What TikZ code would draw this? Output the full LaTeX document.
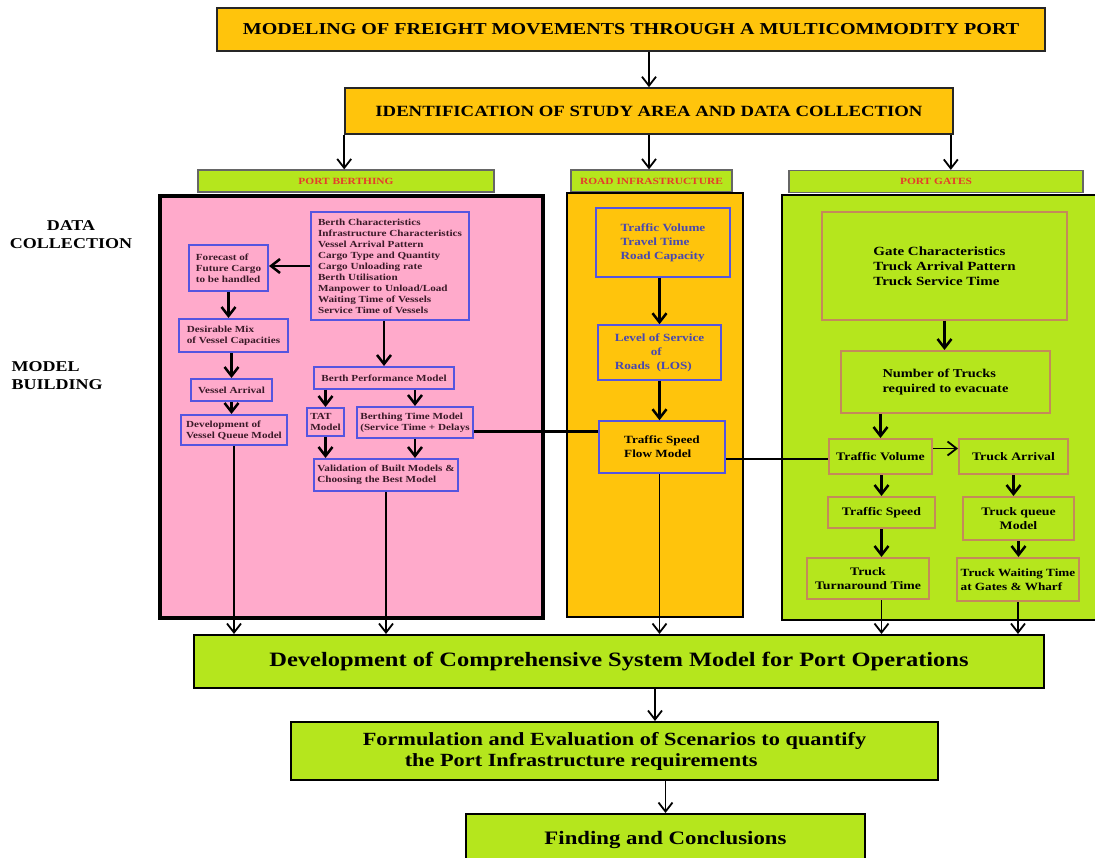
\documentclass[tikz,border=0pt]{standalone}
\usepackage{fontspec}
\setmainfont[FakeStretch=1.2]{Liberation Serif}
\usepackage{tikz}
\usetikzlibrary{arrows.meta}
\definecolor{gold}{HTML}{FFC40C}
\definecolor{limegreen}{HTML}{B5E61D}
\definecolor{portpink}{HTML}{FFAACB}
\definecolor{boxblue}{HTML}{5555E0}
\definecolor{boxbrown}{HTML}{C48A5A}
\definecolor{headred}{HTML}{E63C2C}
\definecolor{textblue}{HTML}{4848B0}
\definecolor{berthtext}{HTML}{3A1A28}
\tikzstyle{heading} = [rectangle, draw=black!85, line width=1.6pt, fill=gold, inner sep=2pt]
\tikzstyle{header} = [rectangle, draw=black!60, line width=1.2pt, fill=limegreen, minimum height=22pt, inner sep=1pt, text=headred, font=\fontsize{9.5}{11}\selectfont\bfseries]
\tikzstyle{panel} = [rectangle, draw=black, line width=2.5pt]
\tikzstyle{bbox} = [rectangle, draw=boxblue, line width=2pt, align=left, inner sep=2pt, text=berthtext, font=\fontsize{9.3}{11}\selectfont\bfseries]
\tikzstyle{rbox} = [rectangle, draw=boxblue, line width=1.5pt, align=left, inner sep=2pt, font=\fontsize{11}{14}\selectfont\bfseries]
\tikzstyle{gbox} = [rectangle, draw=boxbrown, line width=2pt, align=left, inner sep=2pt, font=\fontsize{11.5}{14}\selectfont\bfseries]
\tikzstyle{result} = [rectangle, draw=black, line width=2pt, fill=limegreen, inner sep=2pt]
\tikzstyle{flow} = [draw, line width=1.8pt, -{Straight Barb[length=9pt,width=14pt]}]
\tikzstyle{thickflow} = [flow, line width=2.5pt]
\tikzstyle{link} = [draw, line width=2.5pt]

\begin{document}
\begin{tikzpicture}[x=1pt, y=-1pt]
    \useasboundingbox (0,0) rectangle (1095,858);
    % Place nodes
    \node [heading, minimum width=828pt, minimum height=43pt, font=\fontsize{16.7}{20}\selectfont\bfseries] (title) at (631,29.5) {MODELING OF FREIGHT MOVEMENTS THROUGH A MULTICOMMODITY PORT};
    \node [heading, minimum width=608pt, minimum height=46pt, font=\fontsize{15.6}{19}\selectfont\bfseries] (ident) at (649,111) {IDENTIFICATION OF STUDY AREA AND DATA COLLECTION};
    \node [header, minimum width=296pt] (pbhead) at (346,181) {PORT BERTHING};
    \node [header, minimum width=161pt] (rihead) at (651.5,181) {ROAD INFRASTRUCTURE};
    \node [header, minimum width=294pt] (pghead) at (936,181.5) {PORT GATES};
    \node [panel, fill=portpink, line width=4pt, minimum width=383pt, minimum height=422pt] (berthing) at (351.5,407) {};
    \node [panel, fill=gold, minimum width=176pt, minimum height=424pt] (road) at (655,405) {};
    \node [panel, fill=limegreen, minimum width=316pt, minimum height=425pt] (gates) at (940,407.5) {};
    \node [align=center, font=\fontsize{15}{18}\selectfont\bfseries] (datacol) at (71,235) {DATA\\COLLECTION};
    \node [align=left, anchor=west, font=\fontsize{15}{18}\selectfont\bfseries] (modbuild) at (8,376) {MODEL\\BUILDING};
    % Port berthing
    \node [bbox, minimum width=158pt, minimum height=108pt] (berthchar) at (390,266) {Berth Characteristics\\Infrastructure Characteristics\\Vessel Arrival Pattern\\Cargo Type and Quantity\\Cargo Unloading rate\\Berth Utilisation\\Manpower to Unload/Load\\Waiting Time of Vessels\\Service Time of Vessels};
    \node [bbox, minimum width=79pt, minimum height=46pt] (forecast) at (228.5,268) {Forecast of\\Future Cargo\\to be handled};
    \node [bbox, minimum width=109pt, minimum height=33pt] (mix) at (233.5,335.5) {Desirable Mix\\of Vessel Capacities};
    \node [bbox, minimum width=81pt, minimum height=22pt] (arrival) at (231.5,390) {Vessel Arrival};
    \node [bbox, minimum width=106pt, minimum height=30pt] (queue) at (234,430) {Development of\\Vessel Queue Model};
    \node [bbox, minimum width=140pt, minimum height=22pt] (perf) at (384,378) {Berth Performance Model};
    \node [bbox, minimum width=37pt, minimum height=28pt] (tat) at (325.5,422) {TAT\\Model};
    \node [bbox, minimum width=116pt, minimum height=31pt] (berthtime) at (415,422.5) {Berthing Time Model\\(Service Time + Delays};
    \node [bbox, minimum width=144pt, minimum height=32pt] (valid) at (386,475) {Validation of Built Models \&\\Choosing the Best Model};
    % Road infrastructure
    \node [rbox, text=textblue, minimum width=134pt, minimum height=69pt] (volume) at (663,242.5) {Traffic Volume\\Travel Time\\Road Capacity};
    \node [rbox, text=textblue, minimum width=123pt, minimum height=55pt] (los) at (659.5,352.5) {Level of Service\\\hspace{36pt}of\\Roads\ \ (LOS)};
    \node [rbox, minimum width=126pt, minimum height=52pt] (speedflow) at (662,447) {Traffic Speed\\Flow Model};
    % Port gates
    \node [gbox, font=\fontsize{12.5}{15}\selectfont\bfseries, minimum width=245pt, minimum height=108pt] (gatechar) at (944.5,266) {Gate Characteristics\\Truck Arrival Pattern\\Truck Service Time};
    \node [gbox, font=\fontsize{12}{15}\selectfont\bfseries, minimum width=209pt, minimum height=62pt] (trucks) at (945.5,382) {Number of Trucks\\required to evacuate};
    \node [gbox, minimum width=103pt, minimum height=35pt] (trafvol) at (880.5,456.5) {Traffic Volume};
    \node [gbox, minimum width=109pt, minimum height=35pt] (truckarr) at (1013.5,456.5) {Truck Arrival};
    \node [gbox, minimum width=107pt, minimum height=31pt] (trafspeed) at (881.5,512.5) {Traffic Speed};
    \node [gbox, align=center, minimum width=111pt, minimum height=43pt] (truckqueue) at (1018.5,518.5) {Truck queue\\Model};
    \node [gbox, align=center, minimum width=122pt, minimum height=41pt] (turnaround) at (868,578.5) {Truck\\Turnaround Time};
    \node [gbox, font=\fontsize{11}{14}\selectfont\bfseries, minimum width=122pt, minimum height=43pt] (waiting) at (1018,579.5) {Truck Waiting Time\\at Gates \& Wharf};
    % System model and results
    \node [result, minimum width=850pt, minimum height=53pt, font=\fontsize{20.4}{24}\selectfont\bfseries] (system) at (619,661.5) {Development of Comprehensive System Model for Port Operations};
    \node [result, align=left, minimum width=647pt, minimum height=58pt, font=\fontsize{18.6}{21}\selectfont\bfseries] (scenario) at (614.5,751) {Formulation and Evaluation of Scenarios to quantify\\\hspace{42pt}the Port Infrastructure requirements};
    \node [result, minimum width=399pt, minimum height=52pt, font=\fontsize{19}{23}\selectfont\bfseries] (finding) at (665.5,840) {Finding and Conclusions};
    % Draw edges
    \path [flow] (ident.north |- title.south) -- (ident.north);
    \path [flow] (ident.south west) -- (ident.south west |- pbhead.north);
    \path [flow] (ident.south) -- (ident.south |- rihead.north);
    \path [flow] ([xshift=-3pt]ident.south east) -- ([xshift=-3pt]ident.south east |- pghead.north);
    \path [thickflow] (berthchar.west) -- (berthchar.west -| forecast.east);
    \path [thickflow] (forecast.south) -- (forecast.south |- mix.north);
    \path [thickflow] (arrival.north |- mix.south) -- (arrival.north);
    \path [thickflow] (arrival.south) -- (arrival.south |- queue.north);
    \path [thickflow] (perf.north |- berthchar.south) -- (perf.north);
    \path [thickflow] (tat.north |- perf.south) -- (tat.north);
    \path [thickflow] (berthtime.north |- perf.south) -- (berthtime.north);
    \path [thickflow] (tat.south) -- (tat.south |- valid.north);
    \path [thickflow] (berthtime.south) -- (berthtime.south |- valid.north);
    \path [flow] (queue.south) -- (queue.south |- system.north);
    \path [flow] (valid.south) -- (valid.south |- system.north);
    \path [link] ([yshift=-9pt]berthtime.east) -- ([yshift=-9pt]berthtime.east -| speedflow.west);
    \path [thickflow] (los.north |- volume.south) -- (los.north);
    \path [thickflow] (los.south) -- (los.south |- speedflow.north);
    \path [flow] (los.south |- speedflow.south) -- (los.south |- system.north);
    \path [link] ([yshift=-12pt]speedflow.east) -- ([yshift=-12pt]speedflow.east -| trafvol.west);
    \path [thickflow] (gatechar.south) -- (gatechar.south |- trucks.north);
    \path [thickflow] (trafvol.north |- trucks.south) -- (trafvol.north);
    \path [flow] ([yshift=8pt]trafvol.east) -- ([yshift=8pt]trafvol.east -| truckarr.west);
    \path [thickflow] (trafspeed.north |- trafvol.south) -- (trafspeed.north);
    \path [thickflow] (truckarr.south) -- (truckarr.south |- truckqueue.north);
    \path [thickflow] (trafspeed.south) -- (trafspeed.south |- turnaround.north);
    \path [thickflow] (truckqueue.south) -- (truckqueue.south |- waiting.north);
    \path [flow] (trafspeed.south |- turnaround.south) -- (trafspeed.south |- system.north);
    \path [flow] (waiting.south) -- (waiting.south |- system.north);
    \path [flow] ([xshift=36pt]system.south) -- ([xshift=36pt]system.south |- scenario.north);
    \path [flow] (finding.north |- scenario.south) -- (finding.north);
\end{tikzpicture}
\end{document}
